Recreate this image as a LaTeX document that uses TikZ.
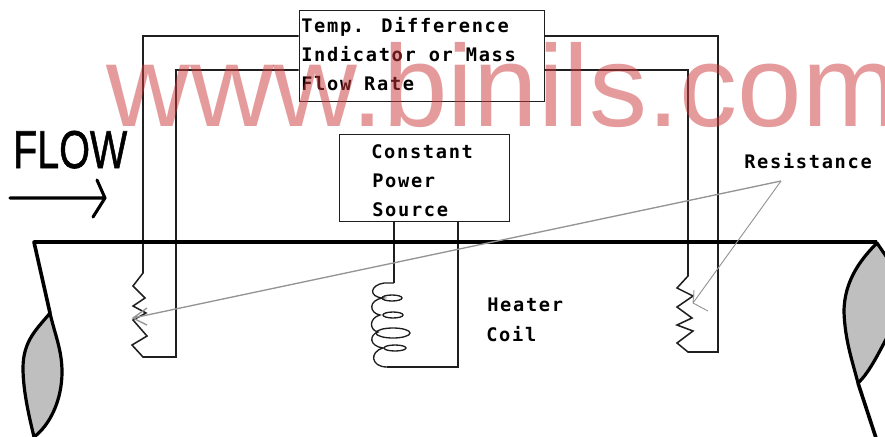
\documentclass[tikz,border=0pt]{standalone}
\usepackage{fontspec}
\setmainfont{Liberation Sans}
\newfontfamily\pixfont[LetterSpace=9]{DejaVu Sans Mono}
\newfontfamily\flowfont[FakeBold=1.2]{Liberation Sans}
\begin{document}
\begin{tikzpicture}[x=0.75pt,y=-0.75pt,
  wire/.style={line width=1.15pt,draw=black!88,line join=miter},
  thinwire/.style={line width=1pt,draw=black!88},
  pipe/.style={line width=2.7pt,draw=black,line join=round},
  leaf/.style={line width=2.4pt,draw=black,fill=black!25,line join=round},
  pointer/.style={line width=1pt,draw=black!42},
  pointerthin/.style={line width=0.7pt,draw=black!42},
  boxnode/.style={draw=black!88,line width=1.15pt,fill=white,inner sep=0pt,anchor=north west},
  lbl/.style={inner sep=0pt,anchor=base west,font=\pixfont\bfseries\fontsize{14}{16}\selectfont,text=black}]
\useasboundingbox (0,0) rectangle (885,436);
\clip (0,0) rectangle (885,436);
% wires behind boxes
\coordinate (oL) at (143,36); \coordinate (iL) at (176,70);
\coordinate (oR) at (718,36); \coordinate (iR) at (688,70);
\node[boxnode,minimum width=183.75pt,minimum height=68.25pt] (indicator) at (298.5,9.5) {};
\node[boxnode,minimum width=127.5pt,minimum height=65.25pt] (source) at (338.5,133.5) {};
\draw[wire] (indicator.west |- oL) -- (oL) -- (143,273) -- (133,286) -- (145,298) -- (133,306) -- (146,313) -- (133,320) -- (147,336) -- (132,345) -- (143,357) -- (176,357) -- (iL) -- (indicator.west |- iL);
\draw[wire] (indicator.east |- oR) -- (oR) -- (718,352) -- (688,352) -- (677,343) -- (693,331) -- (677,325) -- (692,318) -- (677,307) -- (693,296) -- (677,288) -- (688,276) -- (iR) -- (indicator.east |- iR);
% heater
\coordinate (hA) at (394,283); \coordinate (hB) at (387,367);
\draw[wire] (394,221) -- (hA);
\draw[wire] (458,221) -- (458,367) -- (hB);
\draw[thinwire] (hA) -- (384,283) .. controls (370,285) and (368,297) .. (383,298)
  .. controls (368,300) and (369,313) .. (380,315)
  .. controls (369,318) and (369,330) .. (378,332)
  .. controls (369,335) and (369,346) .. (383,348)
  .. controls (369,352) and (371,367) .. (hB);
\draw[thinwire] (392,298) ellipse [x radius=10,y radius=3];
\draw[thinwire] (393,315) ellipse [x radius=10,y radius=3];
\draw[thinwire] (393,333) ellipse [x radius=17,y radius=5];
\draw[thinwire] (395,348) ellipse [x radius=11,y radius=3];
% pipe
\coordinate (pL) at (34,242); \coordinate (pR) at (877,242);
\draw[pipe] (50,313) -- (pL) -- (pR);
\draw[leaf] (50,313) .. controls (38,328) and (23,340) .. (23,368) .. controls (23,392) and (30,420) .. (34,437)
   .. controls (50,425) and (62,400) .. (62,372) .. controls (62,350) and (55,335) .. (50,313) -- cycle;
\draw[leaf] (877,243) .. controls (862,258) and (844,280) .. (844,312) .. controls (845,340) and (852,360) .. (858,383)
   .. controls (870,372) and (880,350) .. (890,332) -- (890,262) -- (877,243) -- cycle;
\draw[pipe] (858,383) -- (876,438);
% flow
\node[inner sep=0pt,anchor=base west,font=\flowfont\fontsize{40}{44}\selectfont,xscale=0.74] (flow) at (13,168) {FLOW};
\coordinate (fA) at (10,198); \coordinate (fB) at (105,198);
\draw[line width=2.3pt,line cap=round,line join=round] (fA) -- (fB) (97,180) -- (fB) -- (93,217);
% pointers
\coordinate (apex) at (781,181); \coordinate (tipL) at (133,318); \coordinate (tipR) at (693,303);
\draw[pointer] (apex) -- (tipL) (147,308) -- (tipL) -- (147,325);
\draw[pointerthin] (apex) -- (tipR) (694,290) -- (tipR) -- (708,311);
% labels
\node[lbl] (t1) at (301,32) {Temp. Difference};
\node[lbl] (t2) at (301,61) {Indicator or Mass};
\node[lbl] (t3) at (301,90) {Flow Rate};
\node[lbl] (s1) at (371,158) {Constant};
\node[lbl] (s2) at (372,187) {Power};
\node[lbl] (s3) at (372,216) {Source};
\node[lbl] (r1) at (744,168) {Resistance};
\node[lbl] (h1) at (487,311) {Heater};
\node[lbl] (h2) at (486,341) {Coil};
% watermark
\node[inner sep=0pt,anchor=base west,font=\fontsize{87}{100}\selectfont,text={rgb,255:red,203;green,55;blue,55},text opacity=0.5] (wm) at (106,126) {www.binils.com};
\end{tikzpicture}
\end{document}
